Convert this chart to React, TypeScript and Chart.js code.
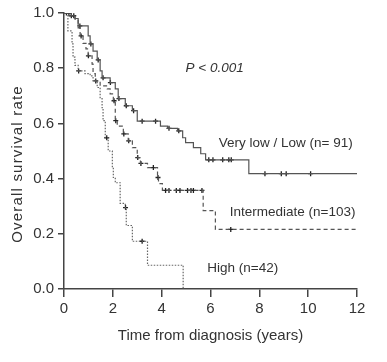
import React, { useEffect, useRef } from "react";
import { Chart, registerables } from "chart.js";

Chart.register(...registerables);

// Very low / Low (solid)
const lowTimes = [0, 0.3, 0.45, 0.58, 0.99, 1.07, 1.19, 1.36, 1.48, 1.56, 1.89, 2.1, 2.22, 2.51, 2.8, 3.0, 3.95, 4.24, 4.65, 4.86, 4.98, 5.3, 5.6, 5.8, 7.57, 12];
const lowSurv = [1.0, 0.99, 0.98, 0.953, 0.917, 0.888, 0.862, 0.83, 0.79, 0.765, 0.748, 0.725, 0.69, 0.664, 0.646, 0.608, 0.59, 0.582, 0.573, 0.548, 0.53, 0.512, 0.49, 0.468, 0.418, 0.418];
const lowCensor = [0.1, 0.2, 0.4, 0.65, 1.1, 1.4, 1.6, 1.9, 2.25, 2.55, 2.85, 3.2, 3.75, 4.3, 4.7, 5.93, 6.1, 6.5, 6.75, 6.85, 8.23, 8.9, 9.1, 10.1];

// Intermediate (dashed)
const midTimes = [0, 0.2, 0.45, 0.58, 0.66, 0.78, 0.9, 0.99, 1.15, 1.19, 1.28, 1.48, 1.77, 1.89, 2.02, 2.1, 2.18, 2.43, 2.63, 2.8, 3.0, 3.13, 3.42, 3.83, 3.87, 4.03, 5.7, 6.2, 12];
const midSurv = [1.0, 0.99, 0.978, 0.946, 0.917, 0.89, 0.87, 0.845, 0.815, 0.78, 0.754, 0.736, 0.725, 0.707, 0.682, 0.61, 0.59, 0.562, 0.537, 0.512, 0.476, 0.455, 0.44, 0.404, 0.382, 0.357, 0.284, 0.216, 0.216];
const midCensor = [0.3, 0.7, 1.0, 1.3, 2.05, 2.12, 2.45, 2.65, 3.02, 3.15, 3.66, 3.85, 4.16, 4.3, 4.6, 4.75, 5.06, 5.2, 5.3, 5.65, 6.83];

// High (dotted)
const highTimes = [0, 0.16, 0.33, 0.37, 0.45, 0.58, 0.86, 1.07, 1.19, 1.36, 1.48, 1.56, 1.6, 1.69, 1.81, 1.98, 2.02, 2.1, 2.3, 2.51, 2.55, 2.8, 3.42, 4.88];
const highSurv = [1.0, 0.935, 0.888, 0.84, 0.81, 0.79, 0.78, 0.772, 0.754, 0.73, 0.69, 0.657, 0.61, 0.548, 0.5, 0.44, 0.404, 0.385, 0.31, 0.295, 0.23, 0.173, 0.086, 0];
const highCensor = [0.6, 1.75, 2.52, 3.2];

const xTicks = [0, 2, 4, 6, 8, 10, 12];
const yTicks = [0, 0.2, 0.4, 0.6, 0.8, 1.0];
const xTitle = "Time from diagnosis (years)";
const yTitle = "Overall survival rate";

const labels = [
  { text: "P < 0.001", x: 4.98, y: 0.8, italic: true },
  { text: "Very low / Low (n= 91)", x: 6.34, y: 0.527, italic: false },
  { text: "Intermediate (n=103)", x: 6.79, y: 0.277, italic: false },
  { text: "High (n=42)", x: 5.87, y: 0.074, italic: false },
];

const FONT = "Arial, 'Liberation Sans', sans-serif";
const INK = "#333";

function survAt(times: number[], surv: number[], t: number) {
  let s = surv[0];
  for (let i = 0; i < times.length; i++) {
    if (times[i] <= t) s = surv[i];
  }
  return s;
}

function pts(times: number[], surv: number[]) {
  return times.map((t, i) => ({ x: t, y: surv[i] }));
}

function censorPts(c: number[], times: number[], surv: number[]) {
  return c.map((t) => ({ x: t, y: survAt(times, surv, t) }));
}

const textPlugin = {
  id: "kmText",
  afterDatasetsDraw(chart: any) {
    const { ctx, scales, chartArea } = chart;
    ctx.save();
    ctx.fillStyle = INK;
    ctx.textBaseline = "middle";
    ctx.textAlign = "left";
    labels.forEach((l) => {
      ctx.font = `${l.italic ? "italic " : ""}13.5px ${FONT}`;
      ctx.fillText(l.text, scales.x.getPixelForValue(l.x), scales.y.getPixelForValue(l.y));
    });
    // y axis title
    ctx.translate(17.5, (chartArea.top + chartArea.bottom) / 2 + 13);
    ctx.rotate(-Math.PI / 2);
    ctx.textAlign = "center";
    ctx.font = `15px ${FONT}`;
    (ctx as any).letterSpacing = "1.2px";
    ctx.fillText(yTitle, 0, 0);
    ctx.restore();
  },
};

export default function App() {
  const ref = useRef<HTMLCanvasElement | null>(null);
  useEffect(() => {
    document.body.style.margin = "0";
    const lineDs = (data: any, dash: number[], color: string) => ({
      type: "line",
      data,
      stepped: "before",
      borderColor: color,
      borderWidth: 1.2,
      borderDash: dash,
      pointRadius: 0,
      fill: false,
    });
    const censDs = (data: any) => ({
      type: "scatter",
      data,
      pointStyle: "cross",
      pointRadius: 2.5,
      borderColor: "#222",
      backgroundColor: "#222",
      pointBorderWidth: 1.3,
      showLine: false,
    });
    const chart = new Chart(ref.current as HTMLCanvasElement, {
      type: "line",
      data: {
        datasets: [
          lineDs(pts(lowTimes, lowSurv), [], "#555"),
          lineDs(pts(midTimes, midSurv), [4, 3], "#555"),
          lineDs(pts(highTimes, highSurv), [1.5, 1.5], "#666"),
          censDs(censorPts(lowCensor, lowTimes, lowSurv)),
          censDs(censorPts(midCensor, midTimes, midSurv)),
          censDs(censorPts(highCensor, highTimes, highSurv)),
        ] as any,
      },
      options: {
        responsive: false,
        animation: false,
        layout: { padding: { top: 12, right: 30, left: 0, bottom: 13 } },
        plugins: { legend: { display: false }, tooltip: { enabled: false } },
        scales: {
          x: {
            type: "linear",
            min: 0,
            max: 12,
            afterBuildTicks: (s: any) => {
              s.ticks = xTicks.map((v) => ({ value: v }));
            },
            afterFit: (s: any) => {
              s.height = 60;
            },
            grid: { display: true, drawOnChartArea: false, drawTicks: true, tickLength: 8, color: "#444", lineWidth: 1.5 },
            border: { display: true, color: "#444", width: 1.5 },
            ticks: { color: INK, font: { family: FONT, size: 15 }, padding: 3, maxRotation: 0 },
            title: { display: true, text: xTitle, color: INK, font: { family: FONT, size: 15 }, padding: { top: 4, bottom: 4 } },
          },
          y: {
            type: "linear",
            min: 0,
            max: 1,
            afterBuildTicks: (s: any) => {
              s.ticks = yTicks.map((v) => ({ value: v }));
            },
            afterFit: (s: any) => {
              s.width = 64;
            },
            grid: { display: true, drawOnChartArea: false, drawTicks: true, tickLength: 6, color: "#444", lineWidth: 1.5 },
            border: { display: true, color: "#444", width: 1.5 },
            ticks: { color: INK, font: { family: FONT, size: 15 }, padding: 4, callback: (v: any) => Number(v).toFixed(1) },
            title: { display: false },
          },
        },
      } as any,
      plugins: [textPlugin],
    });
    return () => chart.destroy();
  }, []);
  return (
    <div style={{ position: "fixed", left: 0, top: 0, width: 387, height: 362, background: "#fff" }}>
      <canvas ref={ref} width={387} height={362} />
    </div>
  );
}
